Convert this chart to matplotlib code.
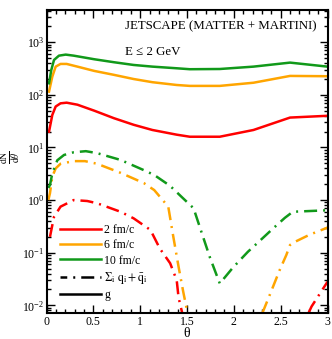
import numpy as np
import matplotlib
matplotlib.use("Agg")
import matplotlib.pyplot as plt
from matplotlib.ticker import MultipleLocator, LogLocator, NullFormatter, FuncFormatter, LogFormatterSciNotation
from matplotlib.lines import Line2D

plt.rcParams['font.family'] = ['Liberation Serif', 'DejaVu Serif']
plt.rcParams['mathtext.fontset'] = 'stix'

# ---- data ----
labels = ["2 fm/c", "6 fm/c", "10 fm/c"]
colors = ["#ff0000", "#ffa500", "#11991a"]

# gluons (solid)
theta_g = [0.027, 0.062, 0.098, 0.15, 0.215, 0.33, 0.51, 0.72, 0.93, 1.13, 1.39, 1.53, 1.85, 2.21, 2.6, 3.0]
g_2fm = [20, 41.5, 60, 69, 71, 65, 50, 36, 27, 21.5, 17.5, 16, 16, 21.5, 37, 40]
g_6fm = [115, 222, 344, 387, 387, 344, 285, 240, 200, 174, 154, 148, 148, 170, 229, 226]
theta_g10 = [0.027, 0.051, 0.08, 0.133, 0.205, 0.29, 0.51, 0.72, 0.93, 1.13, 1.39, 1.53, 1.85, 2.21, 2.6, 3.0]
g_10fm = [166, 296, 460, 556, 582, 556, 475, 417, 370, 344, 320, 307, 310, 344, 410, 344]

# quarks (dash-dot)
theta_q2 = [0.037, 0.08, 0.15, 0.29, 0.435, 0.54, 0.79, 0.93, 1.11, 1.21, 1.32, 1.39, 1.41,
            1.45, 1.55, 2.7, 2.83, 3.0]
q_2fm = [0.2, 0.48, 0.75, 1.0, 0.96, 0.87, 0.60, 0.45, 0.27, 0.12, 0.063, 0.03, 0.014,
         0.007, 0.001, 0.003, 0.0095, 0.028]

theta_q6 = [0.02, 0.037, 0.062, 0.098, 0.15, 0.29, 0.41, 0.54, 0.79, 1.04, 1.15, 1.3, 1.35,
            1.41, 1.46, 1.49, 1.6, 2.2, 2.31, 2.385, 2.49, 2.56, 2.6, 2.65, 2.81, 3.0]
q_6fm = [1.0, 1.35, 2.8, 4.0, 4.9, 5.5, 5.5, 4.9, 3.3, 2.1, 1.55, 0.75, 0.22,
         0.054, 0.018, 0.0098, 0.001, 0.001, 0.0075, 0.016, 0.047, 0.09, 0.14, 0.16, 0.22, 0.30]

theta_q10 = [0.02, 0.037, 0.062, 0.115, 0.187, 0.29, 0.42, 0.54, 0.79, 1.04, 1.15, 1.32, 1.44,
             1.57, 1.66, 1.745, 1.85, 1.99, 2.15, 2.28, 2.42, 2.545, 2.63, 3.0]
q_10fm = [1.7, 1.94, 3.2, 5.7, 7.2, 8.1, 8.5, 7.8, 5.8, 3.7, 3.0, 1.86, 1.16,
          0.70, 0.23, 0.081, 0.026, 0.052, 0.104, 0.17, 0.29, 0.46, 0.60, 0.64]

q_label = r'$\Sigma_{\mathrm{i}}\ \mathrm{q_i} + \bar{\mathrm{q}}_{\mathrm{i}}$'
g_label = 'g'
title1 = "JETSCAPE (MATTER + MARTINI)"
title2 = "E \u2264 2 GeV"
xlabel = "\u03b8"
ylabel = r'$\frac{\mathrm{dN}}{\mathrm{d}\theta}$'

# ---- figure ----
fig = plt.figure(figsize=(3.32, 3.39), dpi=100)
ax = fig.add_axes([46.5/332, 1-313/339, 281/332, 303/339])

lw = 1.8
dd = (0, (5.2, 2.4, 0.8, 2.4))
for th, ys, c in [(theta_g, g_2fm, colors[0]), (theta_g, g_6fm, colors[1]), (theta_g10, g_10fm, colors[2])]:
    ax.plot(th, ys, color=c, lw=lw, solid_joinstyle='round')
for th, ys, c in [(theta_q2, q_2fm, colors[0]), (theta_q6, q_6fm, colors[1]), (theta_q10, q_10fm, colors[2])]:
    ax.plot(th, ys, color=c, lw=lw, linestyle=dd)

ax.set_yscale('log')
ax.set_xlim(0, 3)
ax.set_ylim(0.00714, 4100)

ax.xaxis.set_major_locator(MultipleLocator(0.5))
ax.xaxis.set_minor_locator(MultipleLocator(0.1))
ax.xaxis.set_major_formatter(FuncFormatter(lambda v, p: f"{v:g}"))
ax.yaxis.set_major_locator(LogLocator(base=10, numticks=20))
ax.yaxis.set_minor_locator(LogLocator(base=10, subs=np.arange(2, 10), numticks=20))
ax.yaxis.set_minor_formatter(NullFormatter())
ax.yaxis.set_major_formatter(LogFormatterSciNotation())

ax.tick_params(which='both', direction='in', top=True, right=True, labelsize=8.5, width=1.0)
ax.tick_params(which='major', length=6)
ax.tick_params(axis='y', which='major', pad=1.5)
ax.tick_params(axis='x', which='major', pad=2)
ax.tick_params(which='minor', length=3)
for s in ax.spines.values():
    s.set_linewidth(1.5)

fig.text(187/332, 1-333.5/339, xlabel, fontsize=10, ha='center', va='center')
fig.text(10.5/332, 1-157/339, ylabel, rotation=90,
         ha='center', va='center', fontsize=10)

fig.text(125/332, 1-26/339, title1, fontsize=9.3, ha='left', va='center')
fig.text(125/332, 1-52/339, title2, fontsize=9.3, ha='left', va='center')

handles = [Line2D([], [], color=colors[0], lw=lw),
           Line2D([], [], color=colors[1], lw=lw),
           Line2D([], [], color=colors[2], lw=lw),
           Line2D([], [], color='black', lw=lw, linestyle=(2.5, (5.2, 2.4, 0.8, 2.4))),
           Line2D([], [], color='black', lw=lw)]
leg = ax.legend(handles, labels + [q_label, g_label], loc='upper left',
                bbox_to_anchor=(60/332, 1-224/339), bbox_transform=fig.transFigure,
                frameon=False, fontsize=8.5, handlelength=3.5, handletextpad=0.25,
                borderpad=0, borderaxespad=0, labelspacing=0.28)

fig.savefig('out.png', dpi=100)
